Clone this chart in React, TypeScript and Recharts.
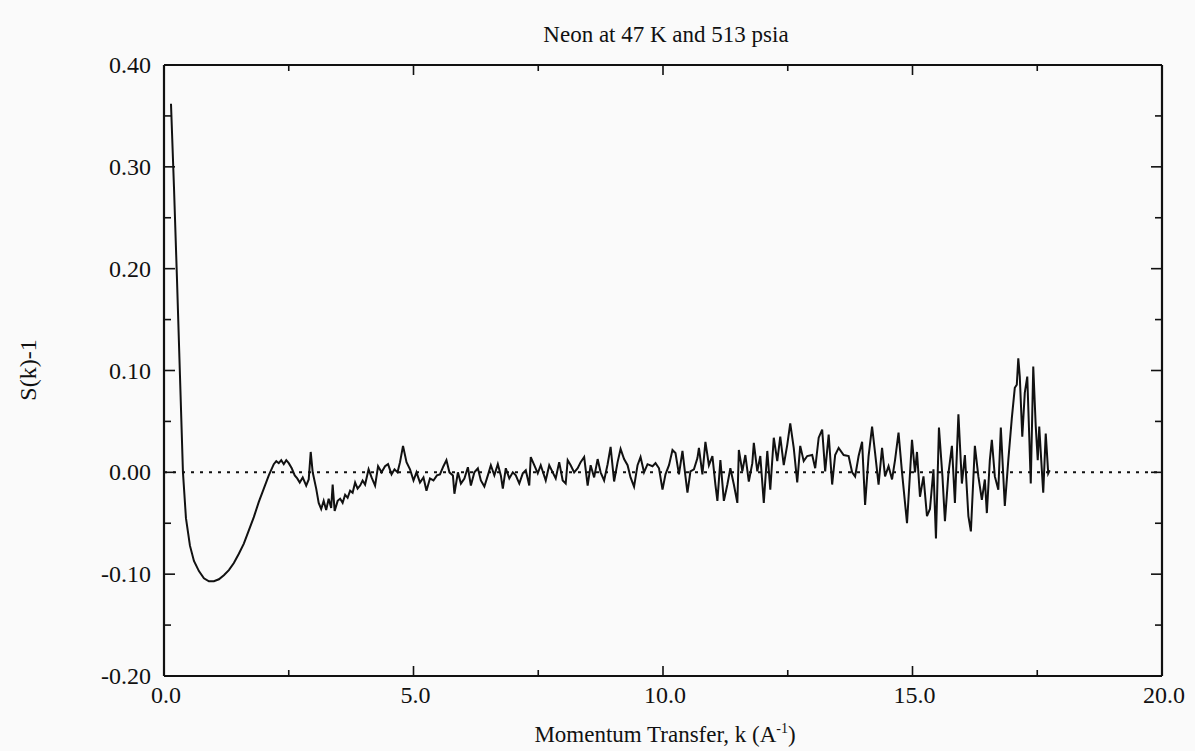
import React from "react";
import { LineChart, Line, XAxis, YAxis, ReferenceLine } from "recharts";

const kValues = [
  0.14, 0.2, 0.26, 0.32, 0.38, 0.44, 0.52, 0.6, 0.7, 0.8,
  0.9, 1.0, 1.1, 1.2, 1.3, 1.4, 1.5, 1.6, 1.7, 1.8,
  1.9, 2.0, 2.1, 2.2, 2.25, 2.3, 2.35, 2.4, 2.45, 2.5,
  2.56, 2.62, 2.67, 2.72, 2.78, 2.85, 2.9, 2.94, 2.98, 3.05,
  3.1, 3.15, 3.2, 3.25, 3.3, 3.35, 3.38, 3.42, 3.48, 3.53,
  3.58, 3.63, 3.68, 3.73, 3.78, 3.83, 3.88, 3.93, 3.98, 4.03,
  4.1, 4.16, 4.23, 4.29, 4.36, 4.43, 4.49, 4.56, 4.62, 4.68,
  4.73, 4.79, 4.86, 4.93, 5.0, 5.06, 5.13, 5.2, 5.26, 5.33,
  5.4, 5.47, 5.53, 5.6, 5.66, 5.72, 5.79, 5.82, 5.89, 5.95,
  6.02, 6.09, 6.15, 6.22, 6.29, 6.35, 6.42, 6.49, 6.55, 6.62,
  6.69, 6.75, 6.79, 6.85, 6.92, 6.99, 7.05, 7.12, 7.19, 7.25,
  7.32, 7.35, 7.42, 7.49, 7.55, 7.65, 7.72, 7.79, 7.85, 7.92,
  7.99, 8.05, 8.09, 8.15, 8.22, 8.29, 8.35, 8.42, 8.49, 8.55,
  8.62, 8.69, 8.75, 8.82, 8.89, 8.95, 9.02, 9.09, 9.15, 9.22,
  9.29, 9.35, 9.42, 9.49, 9.55, 9.62, 9.69, 9.79, 9.85, 9.92,
  9.99, 10.05, 10.12, 10.19, 10.25, 10.32, 10.39, 10.45, 10.49, 10.55,
  10.62, 10.69, 10.72, 10.79, 10.85, 10.92, 10.99, 11.05, 11.09, 11.15,
  11.22, 11.29, 11.35, 11.42, 11.49, 11.52, 11.59, 11.65, 11.72, 11.79,
  11.82, 11.89, 11.95, 12.02, 12.09, 12.15, 12.22, 12.29, 12.35, 12.42,
  12.49, 12.55, 12.62, 12.69, 12.75, 12.82, 12.89, 12.99, 13.05, 13.12,
  13.19, 13.25, 13.32, 13.39, 13.45, 13.52, 13.62, 13.72, 13.79, 13.85,
  13.92, 13.99, 14.05, 14.12, 14.19, 14.25, 14.32, 14.39, 14.45, 14.52,
  14.59, 14.65, 14.72, 14.79, 14.89, 14.99, 15.05, 15.09, 15.15, 15.22,
  15.29, 15.35, 15.42, 15.47, 15.53, 15.6, 15.65, 15.72, 15.79, 15.85,
  15.92, 15.99, 16.05, 16.12, 16.17, 16.25, 16.32, 16.39, 16.45, 16.49,
  16.55, 16.59, 16.65, 16.72, 16.77, 16.85, 16.92, 16.99, 17.05, 17.09,
  17.12, 17.15, 17.2, 17.25, 17.3, 17.34, 17.37, 17.42, 17.47, 17.51,
  17.54, 17.58, 17.62, 17.67, 17.72, 17.75,
];

const sValues = [
  0.362, 0.28, 0.19, 0.095, 0.0, -0.045, -0.072, -0.087, -0.097, -0.104,
  -0.107, -0.107, -0.105, -0.101, -0.096, -0.089, -0.08, -0.07, -0.057, -0.044,
  -0.029, -0.016, -0.003, 0.008, 0.011, 0.009, 0.012, 0.008, 0.012, 0.009,
  0.004, -0.003, -0.006, -0.01, -0.005, -0.013, -0.007, 0.02, 0.0, -0.016,
  -0.03, -0.036, -0.028, -0.037, -0.026, -0.035, -0.012, -0.038, -0.028, -0.026,
  -0.03, -0.022, -0.025, -0.018, -0.02, -0.01, -0.016, -0.013, -0.008, -0.012,
  0.003, -0.005, -0.013, 0.006, 0.0, 0.006, 0.008, -0.002, 0.003, 0.0,
  0.01, 0.026, 0.01, 0.003, -0.008, 0.0, -0.01, -0.005, -0.018, -0.006,
  -0.008, -0.003, -0.002, 0.006, 0.012, 0.0, -0.003, -0.021, 0.0, -0.011,
  -0.006, 0.005, -0.013, 0.0, 0.004, -0.008, -0.014, -0.003, 0.007, -0.003,
  0.008, -0.003, -0.016, 0.004, -0.006, 0.0, -0.003, -0.011, -0.001, 0.002,
  -0.013, 0.015, 0.007, -0.001, 0.007, -0.008, 0.007, 0.0, -0.006, 0.01,
  -0.008, -0.011, 0.012, 0.007, 0.0, 0.004, 0.01, 0.015, -0.013, 0.007,
  -0.005, 0.013, 0.0, -0.008, 0.008, 0.025, -0.009, 0.01, 0.023, 0.013,
  0.007, -0.005, -0.014, 0.007, 0.015, 0.0, 0.008, 0.006, 0.009, 0.004,
  -0.017, -0.002, 0.007, 0.022, 0.019, -0.002, 0.021, -0.004, -0.02, 0.001,
  0.003, 0.014, 0.024, -0.002, 0.03, 0.007, 0.016, -0.012, -0.028, 0.012,
  -0.028, -0.012, 0.004, -0.012, -0.03, 0.022, 0.001, 0.017, -0.009, 0.009,
  0.029, 0.001, 0.016, -0.03, 0.021, -0.017, 0.034, 0.011, 0.035, 0.007,
  0.027, 0.048, 0.024, -0.01, 0.026, 0.011, 0.016, 0.017, 0.004, 0.034,
  0.042, 0.001, 0.037, -0.012, 0.017, 0.024, 0.017, 0.016, 0.0, -0.004,
  0.016, 0.03, -0.032, 0.016, 0.045, 0.019, -0.012, 0.024, -0.004, 0.006,
  -0.007, 0.012, 0.039, 0.0, -0.05, 0.032, 0.0, 0.02, -0.024, -0.004,
  -0.043, -0.036, 0.003, -0.065, 0.044, -0.004, -0.048, -0.001, 0.026, -0.03,
  0.057, -0.011, 0.017, -0.043, -0.058, 0.026, -0.004, -0.027, -0.007, -0.04,
  0.012, 0.032, -0.004, -0.017, 0.044, -0.033, 0.012, 0.053, 0.083, 0.086,
  0.112, 0.094, 0.035, 0.078, 0.094, 0.035, -0.011, 0.104, 0.045, 0.012,
  0.045, 0.012, -0.02, 0.038, -0.001, 0.002,
];

const xTicks = [0, 2.5, 5, 7.5, 10, 12.5, 15, 17.5, 20];
const xMajorLabels = ["0.0", "5.0", "10.0", "15.0", "20.0"];
const yTicks = [-0.2, -0.15, -0.1, -0.05, 0, 0.05, 0.1, 0.15, 0.2, 0.25, 0.3, 0.35, 0.4];

const data = kValues.map((k, i) => ({ k, s: sValues[i] }));

const FONT = '"Liberation Serif", "Times New Roman", "DejaVu Serif", serif';
const INK = "#111";

const isMajorX = (v: number) => Math.abs(v / 5 - Math.round(v / 5)) < 1e-6;
const isMajorY = (v: number) => Math.round(v * 100) % 10 === 0;

const BottomTick = (props: any) => {
  const { x, y, payload } = props;
  const v = payload.value as number;
  const major = isMajorX(v);
  const idx = Math.round(v / 5);
  return (
    <g>
      <line x1={x} y1={y} x2={x} y2={y - (major ? 10 : 6)} stroke={INK} strokeWidth={1.6} />
      {major && (
        <text x={x + 2} y={y + 27} textAnchor="middle" fontFamily={FONT} fontSize={24} fill={INK}>
          {xMajorLabels[idx]}
        </text>
      )}
    </g>
  );
};

const TopTick = (props: any) => {
  const { x, y, payload } = props;
  const major = isMajorX(payload.value as number);
  return <line x1={x} y1={y} x2={x} y2={y + (major ? 10 : 6)} stroke={INK} strokeWidth={1.6} />;
};

const LeftTick = (props: any) => {
  const { x, y, payload } = props;
  const v = payload.value as number;
  const major = isMajorY(v);
  return (
    <g>
      <line x1={x} y1={y} x2={x + (major ? 11 : 7)} y2={y} stroke={INK} strokeWidth={1.6} />
      {major && (
        <text x={x - 13} y={y + 8} textAnchor="end" fontFamily={FONT} fontSize={24} fill={INK}>
          {v.toFixed(2)}
        </text>
      )}
    </g>
  );
};

const RightTick = (props: any) => {
  const { x, y, payload } = props;
  const major = isMajorY(payload.value as number);
  return <line x1={x} y1={y} x2={x - (major ? 11 : 7)} y2={y} stroke={INK} strokeWidth={1.6} />;
};

export default function App() {
  return (
    <div
      style={{
        position: "absolute",
        left: 0,
        top: 0,
        width: 1195,
        height: 751,
        background: "#fafafa",
        fontFamily: FONT,
        color: INK,
      }}
    >
      <LineChart
        width={1195}
        height={751}
        data={data}
        margin={{ top: 55, right: 23, bottom: 35, left: 104 }}
      >
        <XAxis
          xAxisId="bottom"
          type="number"
          dataKey="k"
          domain={[0, 20]}
          ticks={xTicks}
          interval={0}
          orientation="bottom"
          height={40}
          tickSize={0}
          tickMargin={0}
          tickLine={false}
          axisLine={{ stroke: INK, strokeWidth: 2.2 }}
          tick={<BottomTick />}
          allowDataOverflow
        />
        <XAxis
          xAxisId="top"
          type="number"
          dataKey="k"
          domain={[0, 20]}
          ticks={xTicks}
          interval={0}
          orientation="top"
          height={10}
          tickSize={0}
          tickMargin={0}
          tickLine={false}
          axisLine={{ stroke: INK, strokeWidth: 2.2 }}
          tick={<TopTick />}
          allowDataOverflow
        />
        <YAxis
          yAxisId="left"
          type="number"
          domain={[-0.2, 0.4]}
          ticks={yTicks}
          interval={0}
          orientation="left"
          width={60}
          tickSize={0}
          tickMargin={0}
          tickLine={false}
          axisLine={{ stroke: INK, strokeWidth: 2.2 }}
          tick={<LeftTick />}
          allowDataOverflow
        />
        <YAxis
          yAxisId="right"
          type="number"
          domain={[-0.2, 0.4]}
          ticks={yTicks}
          interval={0}
          orientation="right"
          width={10}
          tickSize={0}
          tickMargin={0}
          tickLine={false}
          axisLine={{ stroke: INK, strokeWidth: 2.2 }}
          tick={<RightTick />}
          allowDataOverflow
        />
        <ReferenceLine
          xAxisId="bottom"
          yAxisId="left"
          y={0}
          stroke={INK}
          strokeWidth={2}
          strokeDasharray="3 6"
        />
        <Line
          xAxisId="bottom"
          yAxisId="left"
          type="linear"
          dataKey="s"
          stroke={INK}
          strokeWidth={2}
          dot={false}
          isAnimationActive={false}
        />
      </LineChart>
      <div
        style={{
          position: "absolute",
          left: 466,
          top: 21,
          width: 400,
          height: 28,
          lineHeight: "28px",
          fontSize: 23,
          textAlign: "center",
          whiteSpace: "nowrap",
        }}
      >
        Neon at 47 K and 513 psia
      </div>
      <div
        style={{
          position: "absolute",
          left: 415,
          top: 721,
          width: 500,
          height: 28,
          lineHeight: "28px",
          fontSize: 23,
          textAlign: "center",
          whiteSpace: "nowrap",
        }}
      >
        Momentum Transfer, k (A
        <span style={{ fontSize: 14, position: "relative", top: -9 }}>-1</span>)
      </div>
      <div
        style={{
          position: "absolute",
          left: -32,
          top: 356,
          width: 120,
          height: 28,
          lineHeight: "28px",
          fontSize: 24,
          textAlign: "center",
          whiteSpace: "nowrap",
          transform: "rotate(-90deg)",
        }}
      >
        S(k)-1
      </div>
    </div>
  );
}
